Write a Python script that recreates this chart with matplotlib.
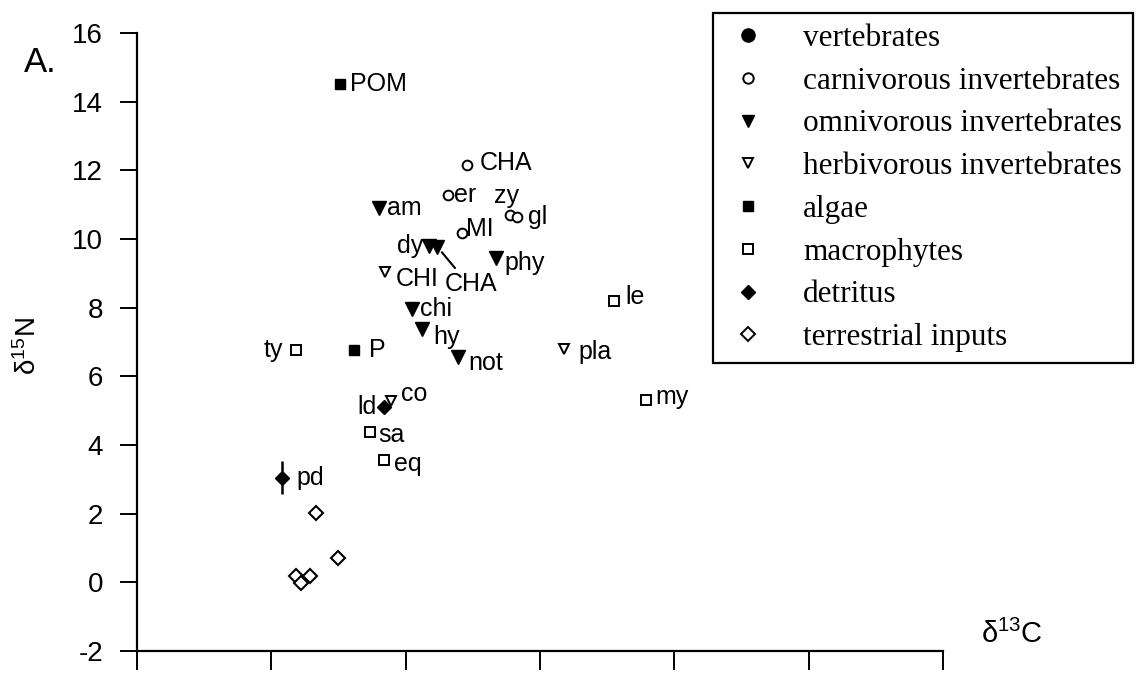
import matplotlib.pyplot as plt
from matplotlib.lines import Line2D

plt.rcParams['font.family'] = ['Liberation Sans', 'DejaVu Sans']
plt.rcParams['mathtext.default'] = 'regular'
plt.rcParams['axes.unicode_minus'] = False

# --- stable isotope values (d13C, d15N) per food web group ---
carn_names = ['CHA', 'er', 'zy', 'gl', 'MI']
carn_c = [-27.70, -28.41, -26.10, -25.87, -27.92]
carn_n = [12.16, 11.28, 10.70, 10.64, 10.17]

omni_names = ['am', 'dy', 'CHA', 'phy', 'chi', 'hy', 'not']
omni_c = [-30.98, -29.15, -28.82, -26.62, -29.75, -29.41, -28.07]
omni_n = [10.90, 9.80, 9.77, 9.45, 7.96, 7.38, 6.56]

herb_names = ['CHI', 'pla', 'co']
herb_c = [-30.76, -24.09, -30.53]
herb_n = [9.04, 6.80, 5.28]

algae_names = ['POM', 'P']
algae_c = [-32.43, -31.91]
algae_n = [14.51, 6.77]

macro_names = ['ty', 'le', 'my', 'sa', 'eq']
macro_c = [-34.07, -22.26, -21.07, -31.32, -30.79]
macro_n = [6.77, 8.19, 5.31, 4.38, 3.56]

detr_names = ['ld', 'pd']
detr_c = [-30.79, -34.60]
detr_n = [5.11, 3.04]
detr_err = [0.0, 0.48]

terr_c = [-33.33, -32.51, -34.07, -33.55, -33.89]
terr_n = [2.02, 0.71, 0.18, 0.18, -0.02]

legend_labels = ['vertebrates', 'carnivorous invertebrates', 'omnivorous invertebrates',
                 'herbivorous invertebrates', 'algae', 'macrophytes', 'detritus',
                 'terrestrial inputs']

# label placement: (dx, dy) in pixels, alignment
label_pos = {
    ('carn', 'CHA'): (12, 2, 'left'), ('carn', 'er'): (6, 0, 'left'),
    ('carn', 'zy'): (-4, 19, 'center'), ('carn', 'gl'): (11, 0, 'left'),
    ('carn', 'MI'): (4, 4, 'left'),
    ('omni', 'am'): (8, 0, 'left'), ('omni', 'dy'): (-5, 0, 'right'),
    ('omni', 'phy'): (8, -5, 'left'), ('omni', 'chi'): (8, 0, 'left'),
    ('omni', 'hy'): (12, -8, 'left'), ('omni', 'not'): (11, -6, 'left'),
    ('herb', 'CHI'): (11, -7, 'left'), ('herb', 'pla'): (14, -3, 'left'),
    ('herb', 'co'): (10, 7, 'left'),
    ('algae', 'POM'): (10, 0, 'left'), ('algae', 'P'): (15, 0, 'left'),
    ('macro', 'ty'): (-13, 0, 'right'), ('macro', 'le'): (12, 4, 'left'),
    ('macro', 'my'): (10, 3, 'left'), ('macro', 'sa'): (8, -3, 'left'),
    ('macro', 'eq'): (10, -4, 'left'),
    ('detr', 'ld'): (-8, 0, 'right'), ('detr', 'pd'): (14, 0, 'left'),
}

fig = plt.figure(figsize=(11.48, 6.79), dpi=100)
ax = fig.add_axes([137 / 1148, 1 - 651 / 679, 806 / 1148, 618 / 679])

ms = 7
ax.plot(carn_c, carn_n, 'o', ms=ms, mfc='white', mec='k', mew=1.4, ls='none', zorder=3)
ax.plot(omni_c, omni_n, 'v', ms=ms + 2.5, mfc='k', mec='k', ls='none', zorder=3)
ax.plot(herb_c, herb_n, 'v', ms=ms + 0.5, mfc='white', mec='k', mew=1.4, ls='none', zorder=3)
ax.plot(algae_c, algae_n, 's', ms=ms, mfc='k', mec='k', ls='none', zorder=3)
ax.plot(macro_c, macro_n, 's', ms=ms - 0.5, mfc='white', mec='k', mew=1.4, ls='none', zorder=3)
ax.errorbar(detr_c, detr_n, yerr=detr_err, fmt='D', ms=ms + 0.5, mfc='k', mec='k',
            ecolor='k', elinewidth=1.8, capsize=0, zorder=3)
ax.plot(terr_c, terr_n, 'D', ms=ms + 0.5, mfc='white', mec='k', mew=1.5, ls='none', zorder=3)

groups = {
    'carn': (carn_names, carn_c, carn_n),
    'omni': (omni_names, omni_c, omni_n),
    'herb': (herb_names, herb_c, herb_n),
    'algae': (algae_names, algae_c, algae_n),
    'macro': (macro_names, macro_c, macro_n),
    'detr': (detr_names, detr_c, detr_n),
}
for key, (names, xs, ys) in groups.items():
    for name, x, y in zip(names, xs, ys):
        if (key, name) not in label_pos:
            continue
        dx, dy, ha = label_pos[(key, name)]
        ax.annotate(name, (x, y), xytext=(dx, dy), textcoords='offset pixels',
                    ha=ha, va='center', fontsize=18)

# omnivorous CHA sits under dy, so its label hangs below with a leader line
i = omni_names.index('CHA')
ax.annotate('CHA', (omni_c[i], omni_n[i]), xytext=(34, -37), textcoords='offset pixels',
            ha='center', va='center', fontsize=18,
            arrowprops=dict(arrowstyle='-', color='k', lw=1.5, shrinkA=1, shrinkB=5,
                            relpos=(0.25, 1.0)))

ax.set_xlim(-40, -10)
ax.set_ylim(-2, 16)
ax.set_xticks(range(-40, -9, 5))
ax.set_xticklabels([])
ax.set_yticks(range(-2, 17, 2))
ax.tick_params(direction='out', length=12.5, width=1.4, labelsize=20, pad=12)
ax.tick_params(axis='x', length=14)
for side in ['top', 'right']:
    ax.spines[side].set_visible(False)
for side in ['left', 'bottom']:
    ax.spines[side].set_linewidth(1.6)

fig.text(24 / 1148, 1 - 62 / 679, 'A.', fontsize=25, ha='left', va='center')
fig.text(28 / 1148, 1 - 346 / 679, 'δ$^{15}$N', fontsize=20, rotation=90,
         ha='center', va='center')
fig.text(1012 / 1148, 1 - 634 / 679, 'δ$^{13}$C', fontsize=21, ha='center', va='center')

handles = [
    Line2D([], [], marker='o', ls='none', ms=9.5, mfc='k', mec='k'),
    Line2D([], [], marker='o', ls='none', ms=7.5, mfc='white', mec='k', mew=1.4),
    Line2D([], [], marker='v', ls='none', ms=9, mfc='k', mec='k'),
    Line2D([], [], marker='v', ls='none', ms=7.5, mfc='white', mec='k', mew=1.4),
    Line2D([], [], marker='s', ls='none', ms=7.5, mfc='k', mec='k'),
    Line2D([], [], marker='s', ls='none', ms=7, mfc='white', mec='k', mew=1.4),
    Line2D([], [], marker='D', ls='none', ms=7.5, mfc='k', mec='k'),
    Line2D([], [], marker='D', ls='none', ms=7, mfc='white', mec='k', mew=1.4),
]
leg = fig.legend(handles, legend_labels, loc='upper right',
                 bbox_to_anchor=(1133 / 1148, 1 - 13 / 679), bbox_transform=fig.transFigure,
                 borderaxespad=0, frameon=True, fancybox=False, framealpha=1,
                 edgecolor='k', handlelength=1.55, handletextpad=1.0, borderpad=0.35,
                 labelspacing=0.44, prop={'family': 'Liberation Serif', 'size': 22.5})
leg.get_frame().set_linewidth(1.6)

fig.savefig('out.png', dpi=100)
